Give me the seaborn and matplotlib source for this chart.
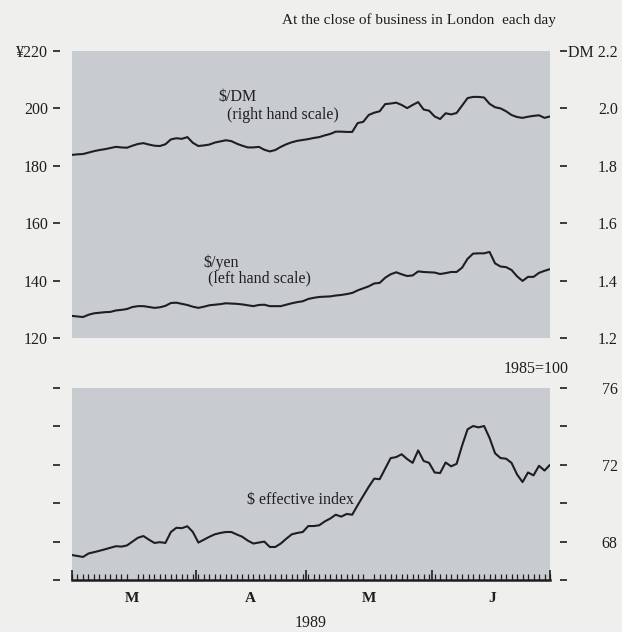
import matplotlib
matplotlib.use("Agg")
import matplotlib.pyplot as plt
import numpy as np
import pandas as pd
import seaborn as sns

# business days, 1 March - 30 June 1989
days = pd.bdate_range("1989-03-01", "1989-06-30")

yen = [127.7, 127.5, 127.3, 128.1, 128.6, 128.8, 129.0, 129.1, 129.6, 129.8,
       130.1, 130.8, 131.1, 131.1, 130.8, 130.5, 130.7, 131.2, 132.2, 132.3,
       131.9, 131.5, 130.9, 130.5, 130.9, 131.4, 131.6, 131.8, 132.1, 132.0,
       131.9, 131.7, 131.4, 131.1, 131.5, 131.6, 131.1, 131.1, 131.1, 131.6,
       132.1, 132.5, 132.8, 133.6, 134.0, 134.3, 134.4, 134.5, 134.8, 135.0,
       135.3, 135.7, 136.6, 137.3, 138.0, 139.0, 139.2, 141.0, 142.2, 142.9,
       142.2, 141.6, 141.8, 143.2, 143.0, 142.9, 142.8, 142.3, 142.6, 143.0,
       143.0, 144.5, 147.6, 149.4, 149.5, 149.5, 150.0, 146.0, 144.9, 144.7,
       143.7, 141.5, 139.9, 141.3, 141.3, 142.7, 143.4, 144.0]

dm = [1.838, 1.840, 1.841, 1.846, 1.851, 1.855, 1.858, 1.862, 1.866, 1.864,
      1.863, 1.870, 1.876, 1.879, 1.874, 1.870, 1.869, 1.875, 1.892, 1.896,
      1.894, 1.900, 1.880, 1.869, 1.871, 1.874, 1.881, 1.885, 1.889, 1.886,
      1.877, 1.870, 1.864, 1.864, 1.866, 1.856, 1.850, 1.855, 1.866, 1.875,
      1.882, 1.887, 1.890, 1.893, 1.897, 1.900, 1.906, 1.911, 1.919, 1.919,
      1.918, 1.918, 1.949, 1.953, 1.977, 1.985, 1.990, 2.015, 2.017, 2.020,
      2.012, 2.001, 2.012, 2.022, 1.996, 1.992, 1.972, 1.963, 1.983, 1.979,
      1.984, 2.010, 2.036, 2.040, 2.040, 2.038, 2.016, 2.004, 2.000, 1.990,
      1.977, 1.970, 1.967, 1.971, 1.974, 1.976, 1.967, 1.972]

eff_index = [67.30, 67.25, 67.20, 67.38, 67.45, 67.52, 67.60, 67.68, 67.76, 67.74,
             67.80, 68.00, 68.20, 68.29, 68.10, 67.93, 67.97, 67.93, 68.50, 68.72,
             68.70, 68.80, 68.50, 67.95, 68.10, 68.25, 68.38, 68.45, 68.50, 68.50,
             68.37, 68.25, 68.05, 67.90, 67.95, 68.00, 67.72, 67.72, 67.90, 68.15,
             68.38, 68.45, 68.50, 68.81, 68.81, 68.85, 69.05, 69.20, 69.40, 69.30,
             69.44, 69.40, 69.90, 70.38, 70.85, 71.28, 71.25, 71.80, 72.35, 72.40,
             72.55, 72.30, 72.10, 72.75, 72.20, 72.10, 71.60, 71.57, 72.12, 71.92,
             72.05, 73.00, 73.85, 74.02, 73.95, 74.02, 73.40, 72.60, 72.35, 72.32,
             72.10, 71.50, 71.10, 71.60, 71.45, 71.95, 71.70, 72.00]

month_labels = ["M", "A", "M", "J"]
yen_ticks = [220, 200, 180, 160, 140, 120]
yen_labels = ["¥220", "200", "180", "160", "140", "120"]
dm_ticks = [2.2, 2.0, 1.8, 1.6, 1.4, 1.2]
dm_labels = ["DM 2.2", "2.0", "1.8", "1.6", "1.4", "1.2"]
idx_ticks = [76, 74, 72, 70, 68, 66]
idx_labels = ["76", "", "72", "", "68", ""]

df = pd.DataFrame({"day": np.arange(len(days)), "date": days,
                   "yen": yen, "dm": dm, "index": eff_index})

# month boundaries and centres in business-day positions
month_start = df.groupby(df["date"].dt.month)["day"].min().values
month_end = df.groupby(df["date"].dt.month)["day"].max().values
month_mid = (month_start + month_end) / 2
bounds = [0] + list(month_start[1:] - 0.5) + [len(df) - 1]

sns.set_theme(style="white")
plt.rcParams["font.family"] = ["Liberation Serif", "DejaVu Serif"]
plt.rcParams["font.size"] = 11.5

BG = "#efefed"
PANEL = "#c8ccd1"
INK = "#1e1e1e"
FS = 11.5

fig = plt.figure(figsize=(6.22, 6.32), dpi=100, facecolor=BG)
ax_top = fig.add_axes([72 / 622, 1 - 338 / 632, 478 / 622, 287 / 632])
ax_dm = ax_top.twinx()
ax_bot = fig.add_axes([72 / 622, 1 - 580 / 632, 478 / 622, 192 / 632])

ax_top.set_facecolor(PANEL)
ax_dm.patch.set_visible(False)
ax_bot.set_facecolor(PANEL)

sns.lineplot(data=df, x="day", y="yen", ax=ax_top, color=INK, lw=1.5, legend=False)
sns.lineplot(data=df, x="day", y="dm", ax=ax_dm, color=INK, lw=1.5, legend=False)
sns.lineplot(data=df, x="day", y="index", ax=ax_bot, color=INK, lw=1.5, legend=False)

for ax in (ax_top, ax_dm, ax_bot):
    ax.set_xlim(0, len(df) - 1)
    ax.set_xlabel("")
    ax.set_ylabel("")
    for s in ("top", "right", "left", "bottom"):
        ax.spines[s].set_visible(False)
    ax.spines["left"].set_position(("outward", 8.6))
    ax.spines["right"].set_position(("outward", 7.2))

ax_top.set_ylim(120, 220)
ax_dm.set_ylim(1.2, 2.2)
ax_bot.set_ylim(66, 76)

ax_top.set_xticks([])
ax_dm.set_xticks([])

# left-hand scale
ax_top.set_yticks(yen_ticks)
ax_top.set_yticklabels(yen_labels)
ax_top.tick_params(axis="y", left=True, right=False, direction="out", length=5,
                   width=1.2, color=INK, pad=3.6, labelsize=FS, labelcolor=INK)

# right-hand scale
ax_dm.set_yticks(dm_ticks)
ax_dm.set_yticklabels(dm_labels)
ax_dm.tick_params(axis="y", right=True, left=False, direction="out", length=5,
                  width=1.2, color=INK, pad=36.5, labelsize=FS, labelcolor=INK)
for lab in ax_dm.get_yticklabels():
    lab.set_horizontalalignment("right")

# bottom panel y ticks on both sides
ax_bot.set_yticks(idx_ticks)
ax_bot.set_yticklabels(idx_labels)
ax_bot.tick_params(axis="y", left=True, right=True, labelleft=False, labelright=True,
                   direction="out", length=5, width=1.2, color=INK, pad=36.5,
                   labelsize=FS, labelcolor=INK)
for lab in ax_bot.get_yticklabels():
    lab.set_horizontalalignment("right")

# bottom x axis: daily ticks, month labels
ax_bot.spines["bottom"].set_visible(True)
ax_bot.spines["bottom"].set_color(INK)
ax_bot.spines["bottom"].set_linewidth(1.8)
ax_bot.set_xticks(month_mid)
ax_bot.set_xticklabels(month_labels, fontweight="bold", fontsize=11)
ax_bot.set_xticks(df["day"].values, minor=True)
ax_bot.tick_params(axis="x", which="major", length=0, pad=9, labelcolor=INK)
ax_bot.tick_params(axis="x", which="minor", bottom=True, direction="in",
                   length=4, width=0.9, color=INK)
sec = ax_bot.secondary_xaxis("bottom")
sec.set_xticks(bounds)
sec.set_xticklabels([])
sec.tick_params(axis="x", direction="in", length=7, width=1.2, color=INK)
sec.spines["bottom"].set_visible(False)
ax_bot.set_xlabel("1989", fontsize=FS, color=INK, labelpad=7)

# annotations
ax_top.text(26.6, 204.0, "\\$/DM", fontsize=FS, color=INK, va="center")
ax_top.text(28.2, 197.7, "(right hand scale)", fontsize=FS, color=INK, va="center")
ax_top.text(24.0, 146.1, "\\$/yen", fontsize=FS, color=INK, va="center")
ax_top.text(24.8, 140.9, "(left hand scale)", fontsize=FS, color=INK, va="center")
ax_bot.text(31.9, 70.17, "\\$ effective index", fontsize=FS, color=INK, va="center")
ax_bot.text(1.038, 1.099, "1985=100", transform=ax_bot.transAxes, fontsize=FS,
            color=INK, ha="right", va="center")

fig.text(556 / 622, 1 - 20 / 632, "At the close of business in London  each day",
         fontsize=11, color=INK, ha="right", va="center")

fig.savefig("out.png", dpi=100, facecolor=BG)
